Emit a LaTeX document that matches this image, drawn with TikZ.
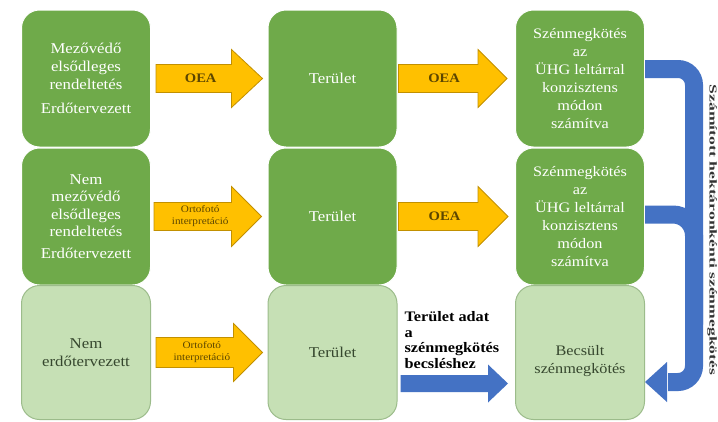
\documentclass[tikz,border=0pt]{standalone}
\usepackage{fontspec}
\setmainfont{Liberation Serif}[FakeStretch=1.12]
\usetikzlibrary{calc}
\definecolor{dgreen}{HTML}{6FAA4A}
\definecolor{lgreen}{HTML}{C6E0B5}
\definecolor{lborder}{HTML}{9CBC8B}
\definecolor{orangefill}{HTML}{FFC000}
\definecolor{orangeedge}{HTML}{C29000}
\definecolor{otext}{HTML}{5C4600}
\definecolor{bluepipe}{HTML}{4472C4}
\definecolor{darktext}{HTML}{36472E}
\newcommand{\fatarrow}[6]{%
  \draw[#1] let \p1=#2, \p2=#3 in
    (\x1,\y1+#4pt) -- (\x2-#6pt,\y1+#4pt) -- (\x2-#6pt,\y1+#5pt) -- (\x2,\y1)
    -- (\x2-#6pt,\y1-#5pt) -- (\x2-#6pt,\y1-#4pt) -- (\x1,\y1-#4pt) -- cycle;}
\begin{document}
\begin{tikzpicture}[x=1pt,y=1pt,
  box/.style={rounded corners=18pt, minimum width=129pt, minimum height=137pt,
    align=center, inner sep=2pt},
  darkbox/.style={box, fill=dgreen, draw=white, line width=1pt, text=white,
    font=\fontsize{15}{18}\selectfont},
  lightbox/.style={box, fill=lgreen, draw=lborder, line width=1pt, text=darktext,
    minimum height=134pt, font=\fontsize{15}{18}\selectfont},
  orangearrow/.style={fill=orangefill, draw=orangeedge, line width=0.8pt, line join=miter},
  bluearrow/.style={fill=bluepipe, draw=none},
  oealabel/.style={text=otext, font=\bfseries\fontsize{13}{15}\selectfont},
  ortolabel/.style={text=otext, align=center, font=\fontsize{10}{12}\selectfont},
  pipe/.style={draw=bluepipe, line width=18pt, rounded corners=16pt},
]
\useasboundingbox (0,0) rectangle (718,-421);
\fill[white] (0,0) rectangle (718,-421);

% column 1
\node[darkbox] (m1) at (86,-78.5) {Mezővédő\\elsődleges\\rendeltetés\\[6pt]Erdőtervezett};
\node[darkbox, font=\fontsize{15}{17.5}\selectfont] (m2) at (86,-216.5) {Nem\\mezővédő\\elsődleges\\rendeltetés\\[4pt]Erdőtervezett};
\node[lightbox] (m3) at (86,-352.5) {Nem\\erdőtervezett};

% column 2
\node[darkbox] (t1) at (332.5,-78.5) {Terület};
\node[darkbox] (t2) at (332.5,-216.5) {Terület};
\node[lightbox] (t3) at (332.5,-352.5) {Terület};

% column 3
\node[darkbox, font=\fontsize{14.5}{18}\selectfont] (s1) at (580,-78.5) {Szénmegkötés\\az\\ÜHG leltárral\\konzisztens\\módon\\számítva};
\node[darkbox, font=\fontsize{14.5}{18}\selectfont] (s2) at (580,-216.5) {Szénmegkötés\\az\\ÜHG leltárral\\konzisztens\\módon\\számítva};
\node[lightbox, text=darktext] (s3) at (580,-352.5) {};
\node[text=darktext, align=center, font=\fontsize{14.5}{18}\selectfont] (s3txt) at ($(s3.center)+(0,-9)$) {Becsült\\szénmegkötés};

% orange arrows
\coordinate (a1s) at ([xshift=5pt]m1.east);
\coordinate (a1t) at ([xshift=-5pt]t1.west);
\coordinate (b1s) at ([xshift=1pt]t1.east);
\coordinate (b1t) at ([xshift=-8pt]s1.west);
\coordinate (a2s) at ([xshift=3pt]m2.east);
\coordinate (a2t) at ([xshift=-6pt]t2.west);
\coordinate (b2s) at ([xshift=1pt]t2.east);
\coordinate (b2t) at ([xshift=-7pt]s2.west);
\coordinate (a3s) at ([xshift=5pt]m3.east);
\coordinate (a3t) at ([xshift=-5pt]t3.west);
\coordinate (c3s) at ([xshift=3pt,yshift=-31pt]t3.east);
\coordinate (c3t) at ([xshift=-7pt,yshift=-31pt]s3.west);

\fatarrow{orangearrow}{(a1s)}{(a1t)}{14}{29}{31}
\fatarrow{orangearrow}{(b1s)}{(b1t)}{14}{29}{29}
\fatarrow{orangearrow}{(a2s)}{(a2t)}{14}{30}{30}
\fatarrow{orangearrow}{(b2s)}{(b2t)}{14}{30}{30}
\fatarrow{orangearrow}{(a3s)}{(a3t)}{15}{29}{29}
\fatarrow{bluearrow}{(c3s)}{(c3t)}{8.5}{19}{20}

\node[oealabel] (l1) at ($(a1s)!0.42!(a1t)$) {OEA};
\node[oealabel] (l2) at ($(b1s)!0.42!(b1t)$) {OEA};
\node[ortolabel] (l3) at ($(a2s)!0.43!(a2t)$) {Ortofotó\\interpretáció};
\node[oealabel] (l4) at ($(b2s)!0.42!(b2t)$) {OEA};
\node[ortolabel] (l5) at ($(a3s)!0.43!(a3t)$) {Ortofotó\\interpretáció};

\node[anchor=west, align=left, text=black, font=\bfseries\fontsize{14.5}{15.5}\selectfont]
  (adat) at (401,-340) {Terület adat\\a\\szénmegkötés\\becsléshez};

% blue pipes
\draw[pipe, rounded corners=21pt] ([yshift=2pt]s2.east) -- ++(49,0) -- ++(0,-110);
\draw[pipe] ([yshift=9.5pt]s1.east) -- ++(49,0) |- ($(s3.east)+(23,-29.5)$);
\fill[bluepipe] ($(s3.east)+(22,-9.5)$) -- ($(s3.east)+(0,-29.5)$) -- ($(s3.east)+(22,-49.5)$) -- cycle;

\node[rotate=-90, text=black!80, font=\bfseries\fontsize{10.5}{12}\selectfont] (side) at (712,-230)
  {\scalebox{1.5}[1]{Számított hektáronkénti szénmegkötés}};
\end{tikzpicture}
\end{document}
